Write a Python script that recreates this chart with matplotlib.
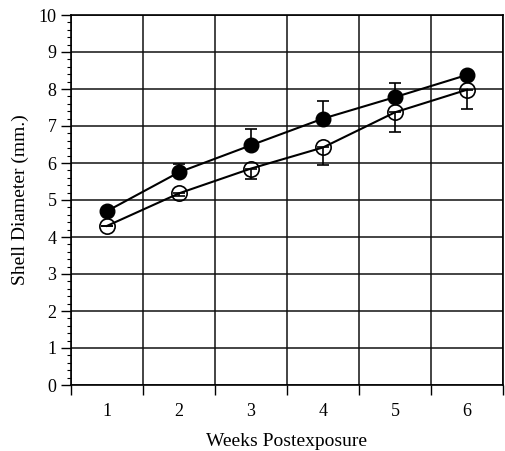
import matplotlib
matplotlib.use('Agg')

import matplotlib.pyplot as plt
import numpy as np

weeks = [1, 2, 3, 4, 5, 6]
filled = [4.70, 5.75, 6.48, 7.20, 7.78, 8.38]
filled_err = [0.0, 0.22, 0.45, 0.47, 0.38, 0.0]
open_ = [4.30, 5.18, 5.85, 6.42, 7.37, 7.98]
open_err = [0.0, 0.08, 0.28, 0.48, 0.52, 0.52]

plt.rcParams['font.family'] = ['Liberation Serif', 'DejaVu Serif']

fig = plt.figure(figsize=(5.05, 4.51), dpi=100)
ax = fig.add_axes([71/505, 66/451, 432/505, 370/451])

ax.errorbar(weeks, filled, yerr=[np.zeros(6), filled_err], color='black',
            marker='o', markersize=10.5, markerfacecolor='black',
            markeredgecolor='black', linewidth=1.5, elinewidth=1.2,
            capsize=4, capthick=1.2, zorder=4)
ax.errorbar(weeks, open_, yerr=[open_err, np.zeros(6)], color='black',
            marker='o', markersize=11, markerfacecolor='none',
            markeredgecolor='black', markeredgewidth=1.2, linewidth=1.5,
            elinewidth=1.2, capsize=4, capthick=1.2, zorder=4)

ax.set_xlim(0.5, 6.5)
ax.set_ylim(0, 10)
ax.set_xticks(np.arange(0.5, 7, 1))
ax.set_xticklabels([])
ax.set_xticks(weeks, minor=True)
ax.set_xticklabels([str(w) for w in weeks], minor=True)
ax.tick_params(axis='x', which='major', direction='out', length=7, width=1)
ax.tick_params(axis='x', which='minor', length=0, pad=13, labelsize=13)

ax.set_yticks(range(0, 11))
ax.set_yticks(np.arange(0, 10.01, 0.2), minor=True)
ax.tick_params(axis='y', which='major', direction='out', length=7, width=1, labelsize=13)
ax.tick_params(axis='y', which='minor', direction='out', length=3, width=0.8)

ax.grid(True, which='major', color='#111111', linewidth=1.1)
ax.set_axisbelow(True)
for s in ax.spines.values():
    s.set_linewidth(1.2)

ax.set_xlabel('Weeks Postexposure', fontsize=14, labelpad=9)
ax.set_ylabel('Shell Diameter (mm.)', fontsize=14, labelpad=7)

plt.savefig('out.png', dpi=100)
